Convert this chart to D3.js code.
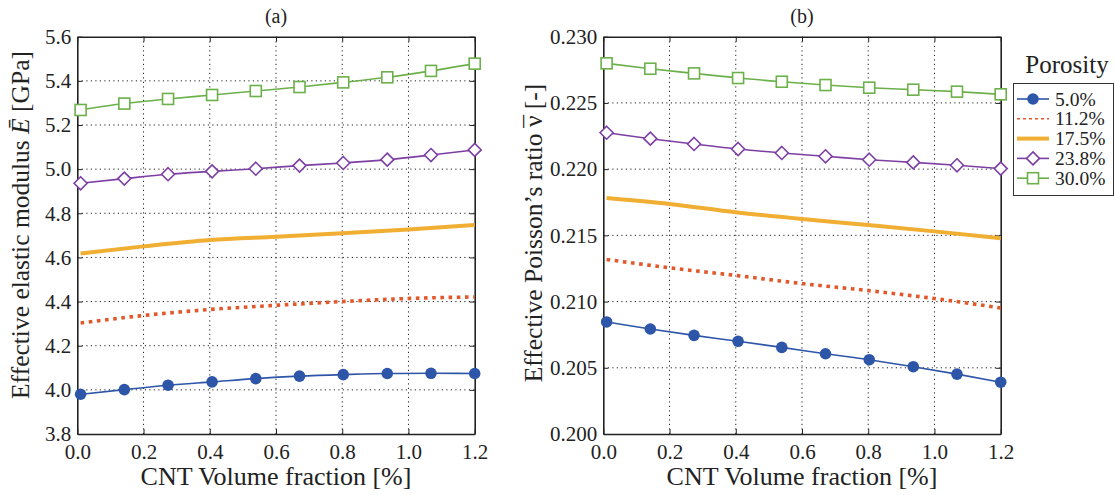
<!DOCTYPE html>
<html><head><meta charset="utf-8">
<script src="https://cdn.jsdelivr.net/npm/d3@7"></script>
<style>body{margin:0;background:#fff}svg text{font-family:"Liberation Serif","Times New Roman","DejaVu Serif",serif !important;fill:#222}</style>
</head><body>
<svg id="c" width="1115" height="495"></svg>
<script>
// ---- data ----
const xMarks = [0.01, 0.142, 0.274, 0.407, 0.539, 0.671, 0.803, 0.936, 1.068, 1.2];
const xSmooth = [0.01, 0.2, 0.4, 0.6, 0.8, 1.0, 1.2];
const porosity = ["5.0%", "11.2%", "17.5%", "23.8%", "30.0%"];
// (a) Effective elastic modulus [GPa]
const E_5  = [3.980, 4.001, 4.021, 4.036, 4.051, 4.062, 4.069, 4.074, 4.075, 4.074];
const E_11 = [4.303, 4.337, 4.364, 4.383, 4.400, 4.414, 4.421];
const E_17 = [4.618, 4.650, 4.679, 4.694, 4.709, 4.727, 4.747];
const E_23 = [4.936, 4.957, 4.977, 4.990, 5.002, 5.016, 5.028, 5.043, 5.064, 5.087];
const E_30 = [5.268, 5.297, 5.318, 5.336, 5.354, 5.372, 5.393, 5.416, 5.445, 5.478];
// (b) Effective Poisson's ratio [-]
const v_5  = [0.20846, 0.20793, 0.20745, 0.20700, 0.20654, 0.20606, 0.20561, 0.20508, 0.20452, 0.20391];
const v_11 = [0.21318, 0.21255, 0.21197, 0.21136, 0.21083, 0.21023, 0.20952];
const v_17 = [0.21782, 0.21737, 0.21674, 0.21623, 0.21578, 0.21530, 0.21478];
const v_23 = [0.22275, 0.22230, 0.22190, 0.22152, 0.22122, 0.22097, 0.22071, 0.22051, 0.22029, 0.22004];
const v_30 = [0.22799, 0.22758, 0.22723, 0.22688, 0.22660, 0.22635, 0.22615, 0.22600, 0.22585, 0.22565];
const xTicks = [0, 0.2, 0.4, 0.6, 0.8, 1.0, 1.2];
const yTicksA = [3.8, 4.0, 4.2, 4.4, 4.6, 4.8, 5.0, 5.2, 5.4, 5.6];
const yTicksB = [0.200, 0.205, 0.210, 0.215, 0.220, 0.225, 0.230];

const colors = ["#2d55a8", "#e2582a", "#f0ae33", "#7d3fa3", "#6cb04a"];
const svg = d3.select("#c");
const FONT = "Liberation Serif, Times New Roman, DejaVu Serif, serif";

const styles = [
  {w:1.6, dash:null, marker:"circle"},
  {w:3.6, dash:"3.6,4.6", marker:null},
  {w:4, dash:null, marker:null},
  {w:1.6, dash:null, marker:"diamond"},
  {w:1.6, dash:null, marker:"square"}
];

function drawMarker(g, type, cx, cy, color) {
  if (type === "circle") g.append("circle").attr("cx", cx).attr("cy", cy).attr("r", 5.8).attr("fill", color);
  else if (type === "square") g.append("rect").attr("x", cx-5.5).attr("y", cy-5.5).attr("width", 11).attr("height", 11).attr("fill", "#fff").attr("stroke", color).attr("stroke-width", 1.6);
  else if (type === "diamond") g.append("path").attr("d", `M${cx},${cy-6.5}L${cx+6.5},${cy}L${cx},${cy+6.5}L${cx-6.5},${cy}Z`).attr("fill", "#fff").attr("stroke", color).attr("stroke-width", 1.6);
}

function panel(opt) {
  const x = d3.scaleLinear().domain([0, 1.2]).range([opt.x0, opt.x1]);
  const y = d3.scaleLinear().domain(opt.yDomain).range([434, 36.7]);
  const g = svg.append("g");
  // grid
  g.selectAll(".gx").data(xTicks.slice(1, -1)).join("line")
    .attr("x1", d => x(d)).attr("x2", d => x(d)).attr("y1", y.range()[0]).attr("y2", y.range()[1])
    .attr("stroke", "#222").attr("stroke-width", 1).attr("stroke-dasharray", "1.2,3.3");
  g.selectAll(".gy").data(opt.yTicks.slice(1, -1)).join("line")
    .attr("y1", d => y(d)).attr("y2", d => y(d)).attr("x1", opt.x0).attr("x2", opt.x1)
    .attr("stroke", "#222").attr("stroke-width", 1).attr("stroke-dasharray", "1.2,3.3");
  // axes
  g.append("g").attr("transform", `translate(0,434)`)
    .call(d3.axisBottom(x).tickValues(xTicks).tickFormat(d3.format(".1f")).tickSizeInner(-5).tickSizeOuter(0).tickPadding(10));
  g.append("g").attr("transform", `translate(${opt.x0},0)`)
    .call(d3.axisLeft(y).tickValues(opt.yTicks).tickFormat(d3.format(opt.fmt)).tickSizeInner(-5).tickSizeOuter(0).tickPadding(6));
  g.append("g").attr("transform", `translate(0,36.7)`).call(d3.axisTop(x).tickValues(xTicks).tickFormat("").tickSizeInner(-5).tickSizeOuter(0));
  g.append("g").attr("transform", `translate(${opt.x1},0)`).call(d3.axisRight(y).tickValues(opt.yTicks).tickFormat("").tickSizeInner(-5).tickSizeOuter(0));
  g.selectAll("g").attr("font-family", FONT);
  g.selectAll(".domain").attr("stroke", "#222").attr("stroke-width", 1.6);
  g.selectAll(".tick line").attr("stroke", "#222").attr("stroke-width", 1);
  g.selectAll(".tick text").attr("font-size", 21).attr("font-family", FONT).attr("fill", "#222");
  // series
  const line = d3.line().x(d => x(d[0])).y(d => y(d[1])).curve(d3.curveMonotoneX);
  opt.series.forEach((vals, i) => {
    const xs = vals.length === xMarks.length ? xMarks : xSmooth;
    const pts = vals.map((v, k) => [xs[k], v]);
    const st = styles[i];
    const p = g.append("path").attr("d", line(pts)).attr("fill", "none").attr("stroke", colors[i]).attr("stroke-width", st.w);
    if (st.dash) p.attr("stroke-dasharray", st.dash);
    if (st.marker) pts.forEach(d => drawMarker(g, st.marker, x(d[0]), y(d[1]), colors[i]));
  });
  // titles
  const cx = (opt.x0 + opt.x1) / 2;
  svg.append("text").attr("x", cx).attr("y", 23).attr("text-anchor", "middle").attr("font-size", 20).attr("font-family", FONT).text(opt.title);
  svg.append("text").attr("x", cx).attr("y", 485).attr("text-anchor", "middle").attr("font-size", 26).attr("font-family", FONT).text("CNT Volume fraction [%]");
  const yl = svg.append("text").attr("transform", `translate(${opt.ylx},${opt.ylc}) rotate(-90)`).attr("text-anchor", "middle").attr("font-size", 25.5).attr("font-family", FONT);
  opt.ylabel(yl);
}

panel({x0: 77.3, x1: 474.7, yDomain: [3.8, 5.6], yTicks: yTicksA, fmt: ".1f", title: "(a)",
  series: [E_5, E_11, E_17, E_23, E_30], ylx: 29, ylc: 225,
  ylabel: t => { t.append("tspan").text("Effective elastic modulus "); t.append("tspan").attr("font-style", "italic").text("Ē"); t.append("tspan").text(" [GPa]"); }});
panel({x0: 603.3, x1: 1000.7, yDomain: [0.200, 0.230], yTicks: yTicksB, fmt: ".3f", title: "(b)",
  series: [v_5, v_11, v_17, v_23, v_30], ylx: 542, ylc: 233,
  ylabel: t => {
    t.append("tspan").text("Effective Poisson’s ratio ");
    const nu = t.append("tspan").text("ν");
    const mac = t.append("tspan").attr("dy", 0).text("¯");
    t.append("tspan").attr("class", "rest").text(" [-]");
    // centre macron over nu using measured glyph widths
    const node = t.node();
    const n = node.getNumberOfChars();
    const nuIdx = "Effective Poisson’s ratio ".length;
    const nuW = node.getSubStringLength(nuIdx, 1);
    const macW = node.getSubStringLength(nuIdx + 1, 1);
    mac.attr("dx", -(nuW + macW) / 2);
    t.select(".rest").attr("dx", (nuW - macW) / 2);
  }});

// legend
const lg = svg.append("g").attr("font-family", FONT);
lg.append("text").attr("x", 1067).attr("y", 73).attr("text-anchor", "middle").attr("font-size", 25).text("Porosity");
lg.append("rect").attr("x", 1013.5).attr("y", 83.5).attr("width", 100).attr("height", 112).attr("fill", "#fff").attr("stroke", "#333").attr("stroke-width", 1);
porosity.forEach((p, i) => {
  const yy = 99 + i * 19.8;
  const st = styles[i];
  const l = lg.append("line").attr("x1", 1017).attr("x2", 1049).attr("y1", yy).attr("y2", yy).attr("stroke", colors[i]).attr("stroke-width", i === 1 ? 1.6 : st.w);
  if (st.dash) l.attr("stroke-dasharray", "3,3");
  if (st.marker) drawMarker(lg, st.marker, 1033, yy, colors[i]);
  lg.append("text").attr("x", 1055).attr("y", yy + 6.5).attr("font-size", 19.5).text(p);
});
</script>
</body></html>
